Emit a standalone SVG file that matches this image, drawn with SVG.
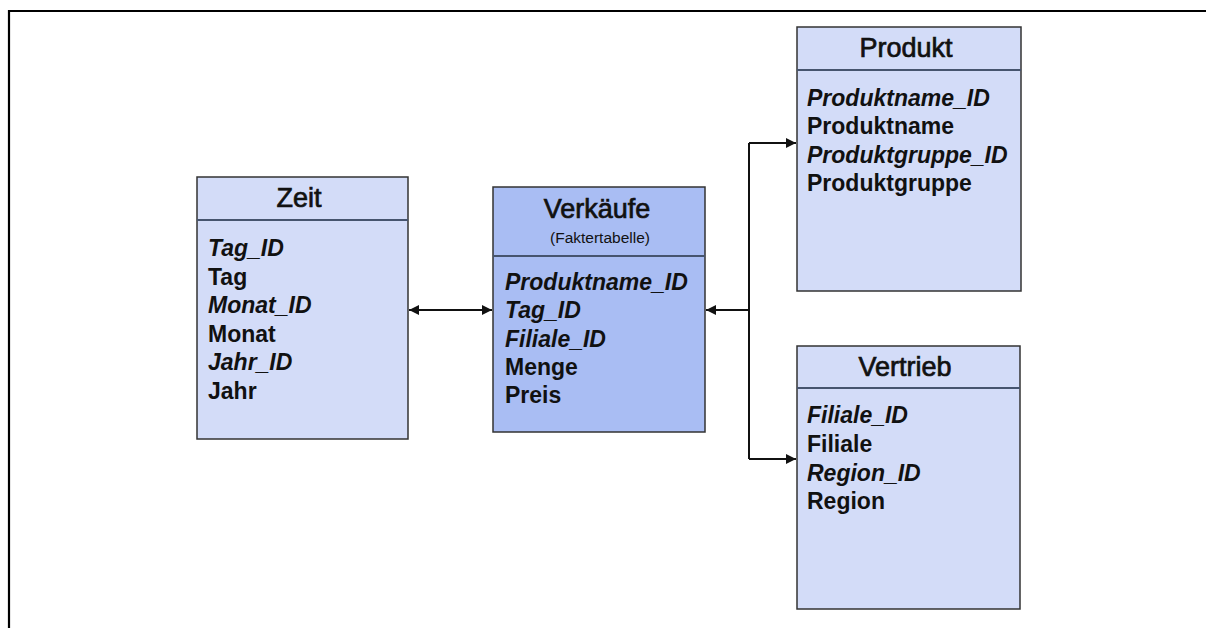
<svg xmlns="http://www.w3.org/2000/svg" width="1206" height="628" viewBox="0 0 1206 628">
  <style>
    .box { fill: #d3dcf8; stroke: #333; stroke-width: 1.5; }
    .fact { fill: #a9bdf3; stroke: #333; stroke-width: 1.5; }
    .div { stroke: #46546e; stroke-width: 2.2; }
    .title { font-family: "Liberation Sans", Arial, sans-serif; font-size: 27px; fill: #111; stroke: #111; stroke-width: 0.7; text-anchor: middle; }
    .sub { font-family: "Liberation Sans", Arial, sans-serif; font-size: 15.5px; fill: #111; text-anchor: middle; }
    .row { font-family: "Liberation Sans", Arial, sans-serif; font-size: 23px; font-weight: bold; fill: #111; }
    .key { font-style: italic; }
    .conn { stroke: #111; stroke-width: 2; fill: none; }
    .frame { stroke: #000; stroke-width: 2.2; fill: none; }
  </style>
  <defs>
    <marker id="arr" viewBox="0 0 10 10" refX="10" refY="5" markerWidth="5" markerHeight="5" orient="auto-start-reverse" markerUnits="strokeWidth">
      <path d="M0,0 L10,5 L0,10 z" fill="#111"/>
    </marker>
  </defs>
  <rect x="0" y="0" width="1206" height="628" fill="#fff"/>
  <path class="frame" d="M9,628 V11 H1206"/>

  <g id="zeit">
    <rect class="box" x="197" y="177" width="211" height="262"/>
    <line class="div" x1="197" y1="220" x2="408" y2="220"/>
    <text class="title" x="299" y="207">Zeit</text>
    <text class="row key" x="208" y="256">Tag_ID</text>
    <text class="row" x="208" y="284.5">Tag</text>
    <text class="row key" x="208" y="313">Monat_ID</text>
    <text class="row" x="208" y="341.5">Monat</text>
    <text class="row key" x="208" y="370">Jahr_ID</text>
    <text class="row" x="208" y="398.5">Jahr</text>
  </g>

  <g id="verkaeufe">
    <rect class="fact" x="493" y="187" width="212" height="245"/>
    <line class="div" x1="493" y1="256" x2="705" y2="256"/>
    <text class="title" x="597" y="218">Verkäufe</text>
    <text class="sub" x="600" y="243">(Faktertabelle)</text>
    <text class="row key" x="505" y="290">Produktname_ID</text>
    <text class="row key" x="505" y="318">Tag_ID</text>
    <text class="row key" x="505" y="347">Filiale_ID</text>
    <text class="row" x="505" y="375">Menge</text>
    <text class="row" x="505" y="403">Preis</text>
  </g>

  <g id="produkt">
    <rect class="box" x="797" y="27" width="224" height="264"/>
    <line class="div" x1="797" y1="70" x2="1021" y2="70"/>
    <text class="title" x="906" y="57">Produkt</text>
    <text class="row key" x="807" y="106">Produktname_ID</text>
    <text class="row" x="807" y="134">Produktname</text>
    <text class="row key" x="807" y="163">Produktgruppe_ID</text>
    <text class="row" x="807" y="191">Produktgruppe</text>
  </g>

  <g id="vertrieb">
    <rect class="box" x="797" y="346" width="223" height="263"/>
    <line class="div" x1="797" y1="388" x2="1020" y2="388"/>
    <text class="title" x="905" y="376">Vertrieb</text>
    <text class="row key" x="807" y="423">Filiale_ID</text>
    <text class="row" x="807" y="452">Filiale</text>
    <text class="row key" x="807" y="481">Region_ID</text>
    <text class="row" x="807" y="509">Region</text>
  </g>

  <g id="connectors">
    <line class="conn" x1="409" y1="310" x2="492" y2="310" marker-start="url(#arr)" marker-end="url(#arr)"/>
    <line class="conn" x1="749" y1="310" x2="706" y2="310" marker-end="url(#arr)"/>
    <path class="conn" d="M749,143 V459"/>
    <line class="conn" x1="749" y1="143" x2="796" y2="143" marker-end="url(#arr)"/>
    <line class="conn" x1="749" y1="459" x2="796" y2="459" marker-end="url(#arr)"/>
  </g>
</svg>
